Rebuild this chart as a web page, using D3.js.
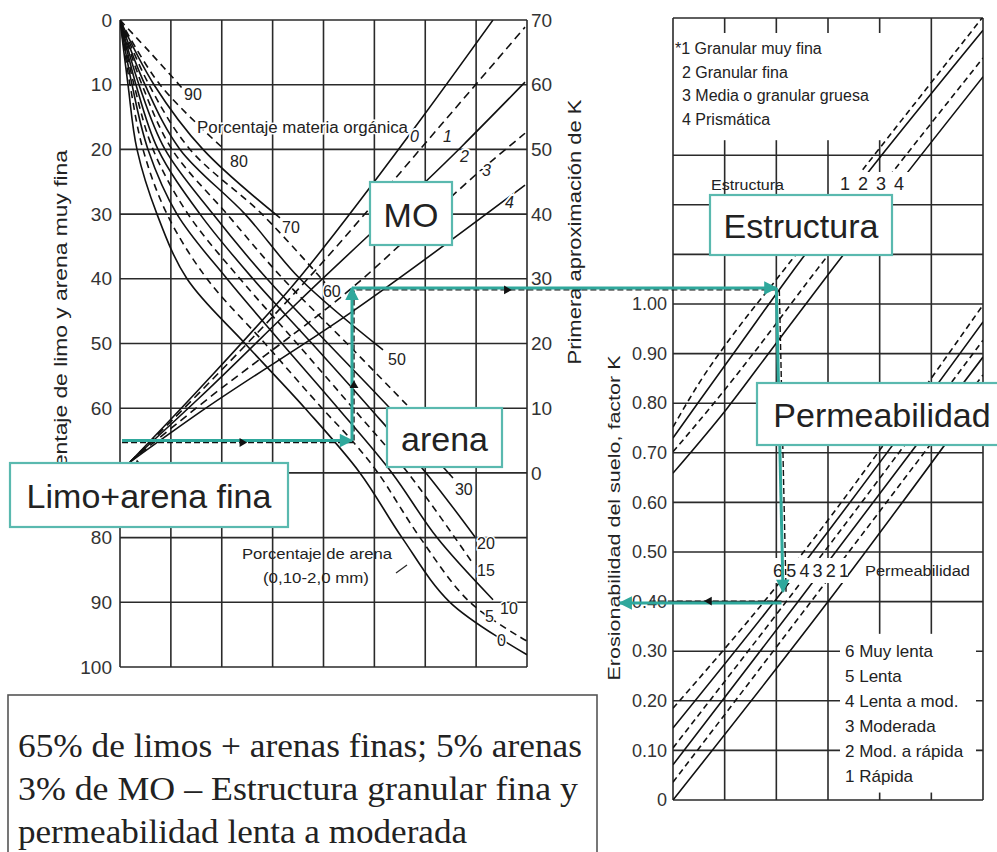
<!DOCTYPE html>
<html>
<head>
<meta charset="utf-8">
<script src="https://cdn.jsdelivr.net/npm/d3@7"></script>
<style>
body { margin: 0; background: #fff; }
svg text { fill: #222; }
</style>
</head>
<body>
<div id="chart"></div>
<script>
const siltTicks = [0, 10, 20, 30, 40, 50, 60, 70, 80, 90, 100];
const k1Ticks = [0, 10, 20, 30, 40, 50, 60, 70];
const kTicks = [0, 0.1, 0.2, 0.3, 0.4, 0.5, 0.6, 0.7, 0.8, 0.9, 1.0];
const kTickLabels = ['0', '0.10', '0.20', '0.30', '0.40', '0.50', '0.60', '0.70', '0.80', '0.90', '1.00'];
const kGrid = [0, 0.1, 0.2, 0.3, 0.4, 0.5, 0.6, 0.7, 0.8, 0.9, 1.0, 1.1, 1.2, 1.3];
const leftCols = [0, 1, 2, 3, 4, 5, 6, 7, 8];
const rightCols = [0, 1, 2, 3, 4, 5, 6];

// % arena: puntos [columna, % limo]
const sandLevels = [0, 5, 10, 15, 20, 30, 40, 50, 60, 70, 80, 90];
const sandCurves = [
    [[0, 0], [0.157, 10], [0.334, 20], [0.727, 30], [1.317, 40], [2.457, 50], [3.636, 60], [4.717, 70], [5.543, 80], [6.486, 90], [8.0, 98.1]],
    [[0, 0], [0.197, 10], [0.452, 20], [0.924, 30], [1.710, 40], [2.850, 50], [3.971, 60], [4.560, 65], [5.071, 70], [5.897, 80], [6.880, 90], [8.0, 96.0]],
    [[0, 0], [0.236, 10], [0.550, 20], [1.120, 30], [2.103, 40], [3.184, 50], [4.285, 60], [5.346, 70], [6.231, 80], [7.332, 89.6]],
    [[0, 0], [0.275, 10], [0.649, 20], [1.337, 30], [2.359, 40], [3.479, 50], [4.580, 60], [5.661, 70], [6.919, 83.8]],
    [[0, 0], [0.314, 10], [0.747, 20], [1.572, 30], [2.614, 40], [3.774, 50], [4.914, 60], [6.015, 70], [6.978, 79.9]],
    [[0, 0], [0.373, 10], [0.885, 20], [1.828, 30], [2.889, 40], [4.088, 50], [5.307, 60], [6.545, 70.8]],
    [[0, 0], [0.432, 10], [1.022, 20], [2.103, 30], [3.204, 40], [4.462, 50], [5.700, 60], [6.290, 64.9]],
    [[0, 0], [0.491, 10], [1.179, 20], [2.457, 30], [3.538, 40], [5.170, 51.0]],
    [[0, 0], [0.570, 10], [1.376, 20], [2.791, 30], [4.029, 40.6]],
    [[0, 0], [0.668, 10], [1.631, 20], [3.145, 30.6]],
    [[0, 0], [0.786, 10], [2.064, 20.1]],
    [[0, 0], [0.590, 5], [1.219, 10.5]]
];

// materia organica: puntos [columna, primera aproximacion de K]
const omLevels = [0, 1, 2, 3, 4];
const omLines = [
    [[0.197, 1.7], [1.572, 13.1], [3.538, 30.3], [5.759, 53.0], [7.332, 70]],
    [[0.197, 1.7], [1.572, 12.5], [3.538, 28.7], [6.388, 54.5], [7.961, 68.9]],
    [[0.197, 1.7], [1.572, 11.7], [3.538, 26.7], [6.722, 50.5], [7.961, 60.4]],
    [[0.197, 1.7], [1.572, 10.5], [4.560, 28.6], [7.214, 47.6], [7.961, 52.5]],
    [[0.197, 1.7], [1.572, 9.4], [4.521, 24.7], [7.961, 44.5]]
];

const structureLevels = [1, 2, 3, 4];
const structureNames = ['*1 Granular muy fina', '2 Granular fina', '3 Media o granular gruesa', '4  Prismática'];
const structureLines = [
    [[0, 0.752], [0.52, 0.843], [1.16, 0.938], [1.99, 1.048], [6, 1.579]],
    [[0, 0.730], [0.52, 0.806], [1.30, 0.919], [2.19, 1.048], [6, 1.552]],
    [[0, 0.702], [0.87, 0.810], [1.65, 0.913], [2.63, 1.048], [6, 1.496]],
    [[0, 0.659], [1.05, 0.790], [1.94, 0.913], [2.92, 1.048], [6, 1.458]]
];

const permLevels = [1, 2, 3, 4, 5, 6];
const permNames = ['6 Muy lenta', '5 Lenta', '4 Lenta a mod.', '3 Moderada', '2 Mod. a rápida', '1 Rápida'];
const permLines = [
    [[0, 0.000], [2.98, 0.397], [6, 0.821]],
    [[0, 0.036], [2.65, 0.397], [6, 0.857]],
    [[0, 0.071], [2.40, 0.397], [6, 0.893]],
    [[0, 0.105], [2.17, 0.397], [6, 0.927]],
    [[0, 0.145], [1.94, 0.397], [6, 0.964]],
    [[0, 0.185], [1.74, 0.397], [6, 0.998]]
];

const exampleSilt = 65;
const exampleSandCol = 4.56;
const exampleK1 = 28.6;
const exampleStructCol = 2.0;
const examplePermCol = 2.13;
const exampleK = 0.397;

const noteLines = [
    '65% de limos + arenas finas; 5% arenas',
    '3% de MO – Estructura granular fina y',
    'permeabilidad lenta a moderada'
];

const w = 997;
const h = 852;
const teal = '#2fa89c';
const boxTeal = '#5ab9af';
const ink = '#2a2a2a';
const sans = "'Liberation Sans', Arial, sans-serif";
const serif = "'Liberation Serif', 'Times New Roman', serif";

const svg = d3.select('#chart')
    .append('svg')
    .attr('width', w)
    .attr('height', h)
    .style('font-family', sans);

svg.append('rect').attr('width', w).attr('height', h).attr('fill', '#fff');

const xL = d3.scaleLinear().domain([0, 8]).range([120, 527]);
const yL = d3.scaleLinear().domain([0, 100]).range([20, 667]);
const yR1 = d3.scaleLinear().domain([0, 70]).range([473, 20]);
const xR = d3.scaleLinear().domain([0, 6]).range([673, 983]);
const yK = d3.scaleLinear().domain([0, 1]).range([800, 304]);
const rightTop = 18;

const defs = svg.append('defs');
defs.append('clipPath').attr('id', 'clipL')
    .append('rect').attr('x', xL(0)).attr('y', yL(0)).attr('width', xL(8) - xL(0)).attr('height', yL(100) - yL(0));
defs.append('clipPath').attr('id', 'clipR')
    .append('rect').attr('x', xR(0)).attr('y', rightTop).attr('width', xR(6) - xR(0)).attr('height', yK(0) - rightTop);
defs.append('marker')
    .attr('id', 'tealArrow')
    .attr('viewBox', '0 0 10 10')
    .attr('refX', 9).attr('refY', 5)
    .attr('markerWidth', 5.5).attr('markerHeight', 4.5)
    .attr('orient', 'auto')
    .append('path').attr('d', 'M0,0L10,5L0,10z').attr('fill', teal);

// rejillas
const gridL = svg.append('g').attr('stroke', ink).attr('stroke-width', 1.6);
gridL.selectAll('line.h').data(siltTicks).join('line')
    .attr('x1', xL(0)).attr('x2', xL(8))
    .attr('y1', (d) => yL(d)).attr('y2', (d) => yL(d));
gridL.selectAll('line.v').data(leftCols).join('line')
    .attr('x1', (d) => xL(d)).attr('x2', (d) => xL(d))
    .attr('y1', yL(0)).attr('y2', yL(100));

const gridR = svg.append('g').attr('stroke', ink).attr('stroke-width', 1.6);
gridR.selectAll('line.h').data(kGrid).join('line')
    .attr('x1', xR(0)).attr('x2', xR(6))
    .attr('y1', (d) => yK(d)).attr('y2', (d) => yK(d));
gridR.append('line')
    .attr('x1', xR(0)).attr('x2', xR(6))
    .attr('y1', rightTop).attr('y2', rightTop);
gridR.selectAll('line.v').data(rightCols).join('line')
    .attr('x1', (d) => xR(d)).attr('x2', (d) => xR(d))
    .attr('y1', rightTop).attr('y2', yK(0));

// zonas en blanco para las leyendas
svg.append('rect').attr('x', xR(0) + 1.5).attr('y', rightTop + 15)
    .attr('width', xR(5) - xR(0) - 3).attr('height', yK(1.3) - rightTop - 30).attr('fill', '#fff');
svg.append('rect').attr('x', 840).attr('y', yK(0.335))
    .attr('width', 136).attr('height', yK(0.015) - yK(0.335)).attr('fill', '#fff');

// curvas del nomograma izquierdo
const sandLine = d3.line()
    .x((d) => xL(d[0]))
    .y((d) => yL(d[1]))
    .curve(d3.curveCatmullRom.alpha(0.5));
const omLine = d3.line()
    .x((d) => xL(d[0]))
    .y((d) => yR1(d[1]))
    .curve(d3.curveMonotoneX);

const sandDash = [null, '7,5', null, '7,5', null, null, '7,5', null, '7,5', null, '7,5', '7,5'];
const omDash = [null, '8,5', null, '8,5', null];

const curvesL = svg.append('g').attr('clip-path', 'url(#clipL)')
    .attr('fill', 'none').attr('stroke', '#111').attr('stroke-width', 1.6);
curvesL.selectAll('path.sand').data(sandCurves).join('path')
    .attr('class', 'sand')
    .attr('d', sandLine)
    .attr('stroke-dasharray', (d, i) => sandDash[i]);
curvesL.selectAll('path.om').data(omLines).join('path')
    .attr('class', 'om')
    .attr('d', omLine)
    .attr('stroke-dasharray', (d, i) => omDash[i]);

// curvas del nomograma derecho
const rLine = d3.line()
    .x((d) => xR(d[0]))
    .y((d) => yK(d[1]))
    .curve(d3.curveMonotoneX);
const structDash = ['6,4', null, '6,4', null];
const permDash = [null, '6,4', null, '6,4', null, '6,4'];

const curvesR = svg.append('g').attr('clip-path', 'url(#clipR)')
    .attr('fill', 'none').attr('stroke', '#111').attr('stroke-width', 1.6);
curvesR.selectAll('path.st').data(structureLines).join('path')
    .attr('class', 'st')
    .attr('d', rLine)
    .attr('stroke-dasharray', (d, i) => structDash[i]);
curvesR.selectAll('path.pm').data(permLines).join('path')
    .attr('class', 'pm')
    .attr('d', rLine)
    .attr('stroke-dasharray', (d, i) => permDash[i]);

// huecos bajo las etiquetas numericas
svg.append('rect').attr('x', 836).attr('y', 172).attr('width', 76).attr('height', 24).attr('fill', '#fff');
svg.append('rect').attr('x', 766).attr('y', 558).attr('width', 82).attr('height', 25).attr('fill', '#fff');

// etiquetas de curvas (la de 40 queda oculta bajo el recuadro "arena")
const sandOffset = [[-30, -9], [-42, -19], [7, 14], [5, 14], [2, 12], [2, 17], null, [5, 15], [-2, 14], [2, 15], [5, 17], [2, 12]];
svg.append('g').selectAll('text').data(sandLevels.filter((d, i) => sandOffset[i])).join('text')
    .each(function (d) {
        const i = sandLevels.indexOf(d);
        const end = sandCurves[i][sandCurves[i].length - 1];
        d3.select(this)
            .attr('x', xL(end[0]) + sandOffset[i][0])
            .attr('y', yL(end[1]) + sandOffset[i][1]);
    })
    .attr('font-size', 16)
    .attr('stroke', '#fff').attr('stroke-width', 3).attr('paint-order', 'stroke')
    .text((d) => d);

const omOffset = [[-83, 122], [-82, 115], [-65, 80], [-43, 43], [-20, 23]];
svg.append('text')
    .attr('x', 197).attr('y', 133)
    .attr('font-size', 16)
    .attr('textLength', 211).attr('lengthAdjust', 'spacingAndGlyphs')
    .attr('stroke', '#fff').attr('stroke-width', 3).attr('paint-order', 'stroke')
    .text('Porcentaje materia orgánica');
svg.append('g').selectAll('text').data(omLevels).join('text')
    .attr('x', (d, i) => xL(omLines[i][omLines[i].length - 1][0]) + omOffset[i][0])
    .attr('y', (d, i) => yR1(omLines[i][omLines[i].length - 1][1]) + omOffset[i][1])
    .attr('font-size', 16)
    .attr('font-style', 'italic')
    .attr('stroke', '#fff').attr('stroke-width', 4).attr('paint-order', 'stroke')
    .text((d) => d);

svg.append('text').attr('x', 317).attr('y', 559).attr('text-anchor', 'middle')
    .attr('font-size', 15).attr('textLength', 150).attr('lengthAdjust', 'spacingAndGlyphs')
    .text('Porcentaje de arena');
svg.append('text').attr('x', 316).attr('y', 583).attr('text-anchor', 'middle')
    .attr('font-size', 15).attr('textLength', 106).attr('lengthAdjust', 'spacingAndGlyphs')
    .text('(0,10-2,0 mm)');
svg.append('line').attr('x1', 396).attr('y1', 573).attr('x2', 407).attr('y2', 565)
    .attr('stroke', ink).attr('stroke-width', 1.2);

// leyendas del lado derecho
svg.append('g').selectAll('text').data(structureNames).join('text')
    .attr('x', (d, i) => (i === 0 ? 675 : 682))
    .attr('y', (d, i) => 54 + i * 23.7)
    .attr('font-size', 16)
    .text((d) => d);
svg.append('text').attr('x', 711).attr('y', 190).attr('font-size', 15)
    .attr('textLength', 73).attr('lengthAdjust', 'spacingAndGlyphs').text('Estructura');
svg.append('g').selectAll('text').data(structureLevels).join('text')
    .attr('x', (d, i) => 840 + i * 18)
    .attr('y', 190)
    .attr('font-size', 18)
    .text((d) => d);

svg.append('g').selectAll('text').data(permLevels.slice().reverse()).join('text')
    .attr('x', (d, i) => 773 + i * 13.2)
    .attr('y', 577)
    .attr('font-size', 18)
    .text((d) => d);
svg.append('text').attr('x', 865).attr('y', 576).attr('font-size', 14)
    .attr('textLength', 105).attr('lengthAdjust', 'spacingAndGlyphs').text('Permeabilidad');
svg.append('g').selectAll('text').data(permNames).join('text')
    .attr('x', 845)
    .attr('y', (d, i) => 657 + i * 25)
    .attr('font-size', 17)
    .text((d) => d);

// ejes ("70" queda tapado por el recuadro de limo)
function styleAxis(g, size) {
    g.select('.domain').remove();
    g.selectAll('text')
        .attr('font-size', size)
        .style('font-family', sans)
        .style('fill', '#333');
}

svg.append('g')
    .attr('transform', `translate(${xL(0)},0)`)
    .call(d3.axisLeft(yL).tickValues(siltTicks.filter((d) => d !== 70)).tickSize(0).tickPadding(8))
    .call((g) => styleAxis(g, 19));
svg.append('g')
    .attr('transform', `translate(${xL(8)},0)`)
    .call(d3.axisRight(yR1).tickValues(k1Ticks).tickSize(0).tickPadding(4))
    .call((g) => styleAxis(g, 19));
svg.append('g')
    .attr('transform', `translate(${xR(0)},0)`)
    .call(d3.axisLeft(yK).tickValues(kTicks).tickFormat((d, i) => kTickLabels[i]).tickSize(0).tickPadding(6))
    .call((g) => styleAxis(g, 18));

svg.append('text')
    .attr('transform', 'translate(67,332) rotate(-90)')
    .attr('text-anchor', 'middle').attr('font-size', 19)
    .attr('textLength', 364).attr('lengthAdjust', 'spacingAndGlyphs')
    .text('Porcentaje de limo y arena muy fina');
svg.append('text')
    .attr('transform', 'translate(581,232) rotate(-90)')
    .attr('text-anchor', 'middle').attr('font-size', 18)
    .attr('textLength', 265).attr('lengthAdjust', 'spacingAndGlyphs')
    .text('Primera aproximación de K');
svg.append('text')
    .attr('transform', 'translate(620,518) rotate(-90)')
    .attr('text-anchor', 'middle').attr('font-size', 16)
    .attr('textLength', 325).attr('lengthAdjust', 'spacingAndGlyphs')
    .text('Erosionabilidad del suelo, factor K');

// recorrido del ejemplo
const p0 = [xL(0.04), yL(exampleSilt)];
const p1 = [xL(exampleSandCol), yL(exampleSilt)];
const p2 = [xL(exampleSandCol), yR1(exampleK1)];
const p3 = [xR(exampleStructCol), yR1(exampleK1)];
const p4 = [xR(examplePermCol), yK(exampleK + 0.023)];
const p5 = [xR(examplePermCol - 0.03), yK(exampleK)];
const p6 = [xR(-1.03), yK(exampleK)];

svg.append('path')
    .attr('d', d3.line()([[p0[0], p0[1] + 2], [p1[0] + 2, p1[1] + 2], [p2[0] + 2, p2[1] + 2], [p3[0] + 3, p3[1] + 2], [p4[0] + 3, p4[1]]]))
    .attr('fill', 'none').attr('stroke', '#111').attr('stroke-width', 1.4).attr('stroke-dasharray', '6,3');
svg.append('path')
    .attr('d', d3.line()([[p6[0] + 30, p6[1] - 2], [p5[0], p5[1] - 2]]))
    .attr('fill', 'none').attr('stroke', '#111').attr('stroke-width', 1.4).attr('stroke-dasharray', '6,3');

const tealSegments = [[p0, p1], [p1, p2], [p2, p3], [p3, p4], [p5, p6]];
svg.append('g').selectAll('path').data(tealSegments).join('path')
    .attr('d', (d) => d3.line()(d))
    .attr('fill', 'none')
    .attr('stroke', teal)
    .attr('stroke-width', 3)
    .attr('marker-end', 'url(#tealArrow)');

const blackMarks = [
    {x: xL(2.4), y: yL(exampleSilt) + 2, r: 90},
    {x: xL(exampleSandCol) + 2, y: yL(56.5), r: 0},
    {x: xL(7.6), y: yR1(exampleK1) + 2, r: 90},
    {x: xR(0.7), y: yK(exampleK) - 2, r: -90},
    {x: xL(0.35), y: yR1(1.3), r: -130}
];
svg.append('g').selectAll('path').data(blackMarks).join('path')
    .attr('d', d3.symbol().type(d3.symbolTriangle).size(34))
    .attr('transform', (d) => `translate(${d.x},${d.y}) rotate(${d.r})`)
    .attr('fill', '#111');

// recuadros
const callouts = [
    {text: 'MO', x: 370, y: 182, w: 82, h: 63},
    {text: 'arena', x: 387, y: 408, w: 115, h: 59},
    {text: 'Limo+arena fina', x: 10, y: 463, w: 278, h: 64},
    {text: 'Estructura', x: 710, y: 195, w: 182, h: 60},
    {text: 'Permeabilidad', x: 757, y: 383, w: 250, h: 62}
];
const boxes = svg.append('g').selectAll('g').data(callouts).join('g');
boxes.append('rect')
    .attr('x', (d) => d.x).attr('y', (d) => d.y)
    .attr('width', (d) => d.w).attr('height', (d) => d.h)
    .attr('fill', '#fff').attr('stroke', boxTeal).attr('stroke-width', 2.2);
boxes.append('text')
    .attr('x', (d) => d.x + d.w / 2)
    .attr('y', (d) => d.y + d.h / 2 + 13)
    .attr('text-anchor', 'middle')
    .attr('font-size', 34)
    .text((d) => d.text);

// nota
svg.append('rect')
    .attr('x', 8).attr('y', 695).attr('width', 589).attr('height', 175)
    .attr('fill', '#fff').attr('stroke', '#555').attr('stroke-width', 1.6);
const noteLen = [564, 560, 449];
svg.append('g').selectAll('text').data(noteLines).join('text')
    .attr('x', 18)
    .attr('y', (d, i) => 757 + i * 43)
    .attr('font-size', 34)
    .style('font-family', serif)
    .attr('textLength', (d, i) => noteLen[i])
    .attr('lengthAdjust', 'spacingAndGlyphs')
    .text((d) => d);
</script>
</body>
</html>
